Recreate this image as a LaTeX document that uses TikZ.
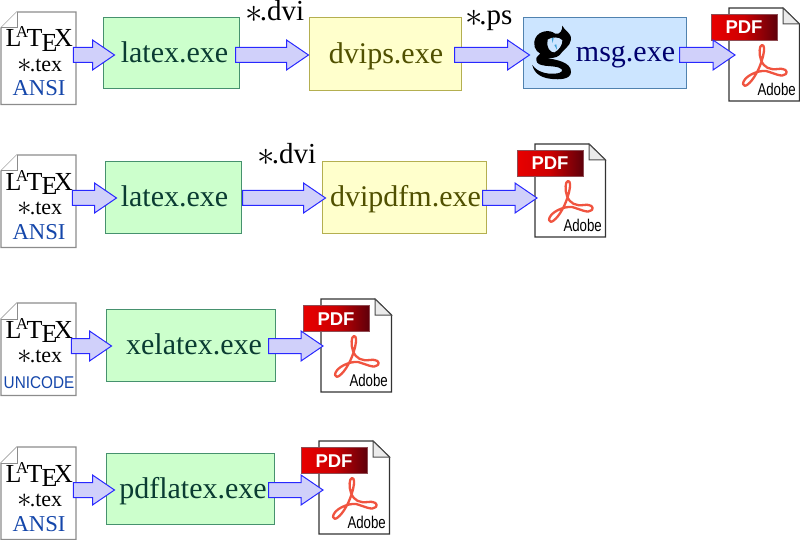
\documentclass[tikz,border=0pt]{standalone}
\usepackage{fontspec}
\setmainfont{Liberation Serif}
\newfontfamily\hvfont{Liberation Sans}
\usetikzlibrary{calc}
\definecolor{arrowfill}{RGB}{208,208,250}
\definecolor{arrowline}{RGB}{40,40,255}
\definecolor{greenfill}{RGB}{204,255,204}
\definecolor{greenline}{RGB}{70,145,110}
\definecolor{greentext}{RGB}{10,60,50}
\definecolor{yellowfill}{RGB}{255,255,204}
\definecolor{yellowline}{RGB}{180,175,80}
\definecolor{yellowtext}{RGB}{80,80,0}
\definecolor{bluefill}{RGB}{204,229,255}
\definecolor{blueline}{RGB}{80,130,175}
\definecolor{bluetext}{RGB}{0,0,110}
\definecolor{enc}{RGB}{20,70,170}
\definecolor{acro}{RGB}{240,84,64}
\definecolor{bannerdark}{RGB}{95,0,10}
\definecolor{bannerred}{RGB}{232,0,0}
\definecolor{dropblue}{RGB}{60,160,215}
\newcommand{\fs}[1]{\fontsize{#1}{#1}\selectfont}
\newcommand{\bigast}{\raisebox{-.06em}{\scalebox{1.4}{$\ast$}}\kern-.11em}
\newcommand{\texlogo}{L\kern-5.4pt\raisebox{9pt}{\fs{16.6}A}\kern-1.5pt T\kern-1pt\raisebox{-4.5pt}{E}\kern-3.4pt X}
\newcommand{\lift}[2]{\hspace*{#1}#2}
\tikzset{
 x=1pt,y=-1pt,
 lbl/.style={inner sep=0pt,anchor=base},
 exebox/.style={draw,line width=1pt,inner sep=0pt,font=\fs{30},text height=21pt,text depth=2pt},
 greenbox/.style={exebox,draw=greenline,fill=greenfill,text=greentext},
 yellowbox/.style={exebox,draw=yellowline,fill=yellowfill,text=yellowtext},
 bluebox/.style={exebox,draw=blueline,fill=bluefill,text=bluetext},
 blockarrow/.style={draw=arrowline,fill=arrowfill,line width=1pt,line join=miter,
  to path={let \p1=(\tikztostart),\p2=(\tikztotarget) in
   (\x1,\y1+7.5pt) -- (\x2-22pt,\y1+7.5pt) -- (\x2-22pt,\y1+15pt) -- (\x2,\y1)
   -- (\x2-22pt,\y1-15pt) -- (\x2-22pt,\y1-7.5pt) -- (\x1,\y1-7.5pt) -- cycle}},
 docline/.style={draw=black!45,line width=1.2pt,fill=white,line join=miter},
 pdfline/.style={draw=black!80,line width=1.2pt,fill=white,line join=miter},
 foldfill/.style={draw=black!70,line width=1pt,fill=black!8,line join=miter},
 acrostroke/.style={draw=acro,line width=2.3pt,line join=round},
}
\newcommand{\texdoc}[4]{%
 \node[inner sep=0pt,anchor=north west,minimum width=75pt,minimum height=92.5pt] (#1) at (#2,#3) {};
 \draw[docline] (#2+16,#3) -- (#2+75,#3) -- (#2+75,#3+92.5) -- (#2,#3+92.5) -- (#2,#3+16) -- cycle;
 \draw[draw=black!45,line width=1pt,fill=white] (#2+16,#3) -- (#2+16,#3+16) -- (#2,#3+16);
 \node[lbl,anchor=base west,font=\fs{26}] at (#2+4.5,#3+35) {\texlogo};
 \node[lbl,font=\fs{22}] at (#2+39,#3+59.5) {\bigast.tex};
 \node[lbl,text=enc] at (#2+38,#3+84) {#4};
}
\newcommand{\pdfdoc}[3]{%
 \node[inner sep=0pt,anchor=north west,minimum width=70.5pt,minimum height=93pt] (#1) at (#2,#3) {};
 \draw[pdfline] (#2,#3) -- (#2+54,#3) -- (#2+70.5,#3+16) -- (#2+70.5,#3+93) -- (#2,#3+93) -- cycle;
 \draw[foldfill] (#2+54,#3) -- (#2+54,#3+16) -- (#2+70.5,#3+16) -- cycle;
 \shade[left color=bannerred,right color=bannerdark,middle color=bannerred!80!bannerdark]
  (#2-18,#3+6.5) rectangle (#2+48,#3+32.5);
 \draw[bannerdark!70,line width=.6pt] (#2-18,#3+6.5) rectangle (#2+48,#3+32.5);
 \node[lbl,text=white,font=\hvfont\bfseries\fs{18.5}] at (#2+15,#3+26) {PDF};
 \draw[acrostroke] (#2+33,#3+37) .. controls (#2+30,#3+37) and (#2+30,#3+47) .. (#2+32,#3+52)
  .. controls (#2+35,#3+60) and (#2+41,#3+62) .. (#2+49,#3+61)
  .. controls (#2+56,#3+60) and (#2+59,#3+63) .. (#2+57,#3+66)
  .. controls (#2+53,#3+70) and (#2+45,#3+65) .. (#2+37,#3+63)
  .. controls (#2+28,#3+62) and (#2+14,#3+69) .. (#2+14,#3+76)
  .. controls (#2+15,#3+81) and (#2+22,#3+75) .. (#2+27,#3+66)
  .. controls (#2+33,#3+56) and (#2+38,#3+37) .. (#2+33,#3+37) -- cycle;
 \node[lbl,anchor=base east,font=\hvfont\fs{17},xscale=.78] at (#2+67,#3+87.5) {Adobe};
}
\begin{document}
\begin{tikzpicture}
\useasboundingbox (0,0) rectangle (800,540);
\coordinate (r1) at (0,55);
\coordinate (r2) at (0,198);
\coordinate (r3) at (0,346);
\coordinate (r4) at (0,490);
% row 1
\texdoc{srcA}{1}{12}{\fs{22.7}ANSI}
\node[greenbox,minimum width=136pt,minimum height=71pt] (latexA) at (171,53.5) {\lift{7pt}{latex.exe}};
\node[yellowbox,minimum width=152pt,minimum height=73pt] (dvips) at (385,54.5) {\lift{2pt}{dvips.exe}};
\node[bluebox,minimum width=163pt,minimum height=71pt] (msg) at (604.5,53.5) {};
\node[lbl,font=\fs{30},text=bluetext] (msglabel) at (625.5,62) {msg.exe};
\begin{scope}[shift={(525,15)},x=.3333pt,y=-.3333pt]
 \fill[black] (112,32) .. controls (116,46) and (140,52) .. (138,74)
  .. controls (136,94) and (114,104) .. (104,120)
  .. controls (94,130) and (76,130) .. (62,128)
  .. controls (90,134) and (140,140) .. (138,172)
  .. controls (136,194) and (102,194) .. (82,192)
  .. controls (56,190) and (28,180) .. (22,150)
  .. controls (36,170) and (62,178) .. (90,176)
  .. controls (114,174) and (118,164) .. (102,158)
  .. controls (82,150) and (36,158) .. (34,136)
  .. controls (32,124) and (42,122) .. (46,116)
  .. controls (30,108) and (22,88) .. (32,68)
  .. controls (42,48) and (74,42) .. (90,56)
  .. controls (106,60) and (112,46) .. (112,32) -- cycle;
 \fill[bluefill] (68,74) .. controls (82,64) and (104,66) .. (112,76)
  .. controls (112,92) and (100,106) .. (88,112)
  .. controls (76,114) and (62,94) .. (68,74) -- cycle;
 \fill[dropblue] (80,70) -- (86,68) -- (83,84) -- cycle;
 \fill[dropblue] (88,90) -- (94,88) -- (96,104) -- cycle;
\end{scope}
\pdfdoc{pdfA}{729}{8}
\draw[blockarrow] ([xshift=-3pt]srcA.east |- r1) to ([xshift=12pt]latexA.west |- r1);
\draw[blockarrow] ([xshift=-4pt]latexA.east |- r1) to ([xshift=0pt]dvips.west |- r1);
\draw[blockarrow] ([xshift=-7pt]dvips.east |- r1) to ([xshift=7pt]msg.west |- r1);
\draw[blockarrow] ([xshift=-7pt]msg.east |- r1) to ([xshift=6pt]pdfA.west |- r1);
\node[lbl,anchor=base west,font=\fs{29}] (dviA) at (245.5,20.5) {\bigast.dvi};
\node[lbl,anchor=base west,font=\fs{29}] (psA) at (465,25) {\bigast.ps};
% row 2
\texdoc{srcB}{1}{155}{\fs{22.7}ANSI}
\node[greenbox,minimum width=136pt,minimum height=72pt] (latexB) at (173,197.5) {\lift{3pt}{latex.exe}};
\node[yellowbox,minimum width=164pt,minimum height=71pt] (dvipdfm) at (404,197.5) {\lift{3pt}{dvipdfm.exe}};
\pdfdoc{pdfB}{535}{144}
\draw[blockarrow] ([xshift=-4pt]srcB.east |- r2) to ([xshift=12pt]latexB.west |- r2);
\draw[blockarrow] ([xshift=1pt]latexB.east |- r2) to ([xshift=4pt]dvipdfm.west |- r2);
\draw[blockarrow] ([xshift=-4pt]dvipdfm.east |- r2) to ([xshift=2pt]pdfB.west |- r2);
\node[lbl,anchor=base west,font=\fs{29}] (dviB) at (257.5,164) {\bigast.dvi};
% row 3
\texdoc{srcC}{1}{303}{\raisebox{-1pt}{\hvfont\fs{17}\scalebox{.9}[1]{UNICODE}}}
\node[greenbox,minimum width=169pt,minimum height=72pt] (xelatex) at (190.5,345) {\lift{7pt}{xelatex.exe}};
\pdfdoc{pdfC}{321}{299}
\draw[blockarrow] ([xshift=-5pt]srcC.east |- r3) to ([xshift=6pt]xelatex.west |- r3);
\draw[blockarrow] ([xshift=-7pt]xelatex.east |- r3) to ([xshift=2pt]pdfC.west |- r3);
% row 4
\texdoc{srcD}{1}{447}{\fs{22.7}ANSI}
\node[greenbox,minimum width=168pt,minimum height=71pt] (pdflatex) at (190,488.5) {\lift{6pt}{pdflatex.exe}};
\pdfdoc{pdfD}{319}{441}
\draw[blockarrow] ([xshift=-3pt]srcD.east |- r4) to ([xshift=9pt]pdflatex.west |- r4);
\draw[blockarrow] ([xshift=-6pt]pdflatex.east |- r4) to ([xshift=4pt]pdfD.west |- r4);
\end{tikzpicture}
\end{document}
